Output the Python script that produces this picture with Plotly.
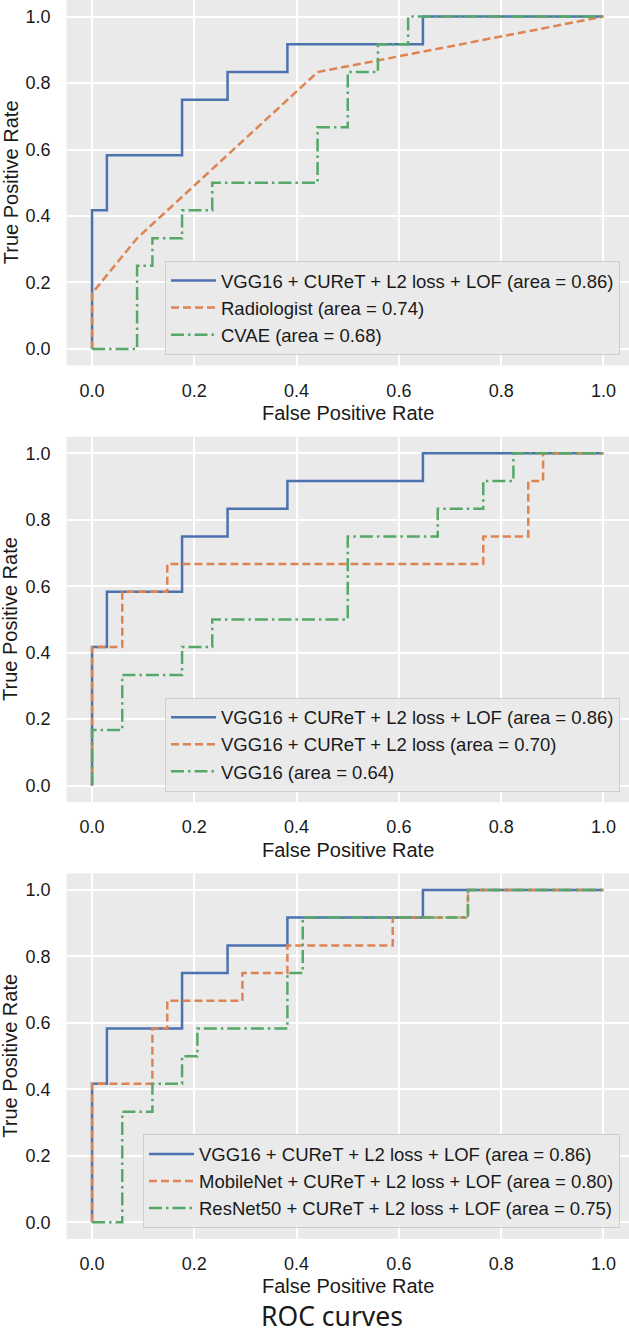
import plotly.graph_objects as go

# ROC corner points (step curves drawn with shape "hv")
vgg_lof_fpr = [0.0, 0.0, 0.029, 0.176, 0.265, 0.382, 0.647, 1.0]
vgg_lof_tpr = [0.0, 0.417, 0.583, 0.75, 0.833, 0.917, 1.0, 1.0]

radiologist_fpr = [0.0, 0.0, 0.088, 0.441, 1.0]
radiologist_tpr = [0.0, 0.167, 0.333, 0.833, 1.0]

cvae_fpr = [0.0, 0.088, 0.118, 0.176, 0.235, 0.441, 0.5, 0.559, 0.618, 1.0]
cvae_tpr = [0.0, 0.25, 0.333, 0.417, 0.5, 0.667, 0.833, 0.917, 1.0, 1.0]

vgg_l2_fpr = [0.0, 0.0, 0.059, 0.147, 0.765, 0.853, 0.882, 1.0]
vgg_l2_tpr = [0.0, 0.417, 0.583, 0.667, 0.75, 0.917, 1.0, 1.0]

vgg16_fpr = [0.0, 0.0, 0.059, 0.176, 0.235, 0.5, 0.676, 0.765, 0.824, 1.0]
vgg16_tpr = [0.0, 0.167, 0.333, 0.417, 0.5, 0.75, 0.833, 0.917, 1.0, 1.0]

mobilenet_fpr = [0.0, 0.0, 0.118, 0.147, 0.294, 0.382, 0.588, 0.735, 1.0]
mobilenet_tpr = [0.0, 0.417, 0.583, 0.667, 0.75, 0.833, 0.917, 1.0, 1.0]

resnet_fpr = [0.0, 0.059, 0.118, 0.176, 0.206, 0.382, 0.412, 0.735, 1.0]
resnet_tpr = [0.0, 0.333, 0.417, 0.5, 0.583, 0.75, 0.917, 1.0, 1.0]

tick_vals = [0.0, 0.2, 0.4, 0.6, 0.8, 1.0]

BLUE, ORANGE, GREEN = "#4C72B0", "#DD8452", "#55A868"
W, H = 629, 1335
FONT = "Liberation Sans, Arial, sans-serif"
INK = "#1a1a1a"

# (label, fpr, tpr, color, dash, shape) for each panel
panels = [
    [
        ("VGG16 + CUReT + L2 loss + LOF (area = 0.86)", vgg_lof_fpr, vgg_lof_tpr, BLUE, "solid", "hv"),
        ("Radiologist (area = 0.74)", radiologist_fpr, radiologist_tpr, ORANGE, "8px,4px", "linear"),
        ("CVAE (area = 0.68)", cvae_fpr, cvae_tpr, GREEN, "13px,4px,2.5px,4px", "hv"),
    ],
    [
        ("VGG16 + CUReT + L2 loss + LOF (area = 0.86)", vgg_lof_fpr, vgg_lof_tpr, BLUE, "solid", "hv"),
        ("VGG16 + CUReT + L2 loss (area = 0.70)", vgg_l2_fpr, vgg_l2_tpr, ORANGE, "8px,4px", "hv"),
        ("VGG16 (area = 0.64)", vgg16_fpr, vgg16_tpr, GREEN, "13px,4px,2.5px,4px", "hv"),
    ],
    [
        ("VGG16 + CUReT + L2 loss + LOF (area = 0.86)", vgg_lof_fpr, vgg_lof_tpr, BLUE, "solid", "hv"),
        ("MobileNet + CUReT + L2 loss + LOF (area = 0.80)", mobilenet_fpr, mobilenet_tpr, ORANGE, "8px,4px", "hv"),
        ("ResNet50 + CUReT + L2 loss + LOF (area = 0.75)", resnet_fpr, resnet_tpr, GREEN, "13px,4px,2.5px,4px", "hv"),
    ],
]

# panel boxes in pixels from the top of the page
tops = [0.0, 436.7, 873.4]
plot_h = 365.5
left = 66.5

fig = go.Figure()
layout = dict(
    width=W,
    height=H,
    margin=dict(l=0, r=0, t=0, b=0),
    paper_bgcolor="white",
    plot_bgcolor="#EAEAEA",
    font=dict(family=FONT, size=18, color=INK),
    showlegend=True,
    annotations=[],
)

for i, traces in enumerate(panels):
    n = "" if i == 0 else str(i + 1)
    leg = "legend" + n
    for name, fx, ty, color, dash, shape in traces:
        fig.add_trace(
            go.Scatter(
                x=fx,
                y=ty,
                name=name,
                mode="lines",
                line=dict(color=color, width=2.5, dash=dash, shape=shape),
                xaxis="x" + n,
                yaxis="y" + n,
                legend=leg,
            )
        )

    top = tops[i]
    bottom = top + plot_h
    ax = dict(
        range=[-0.05, 1.05],
        tickvals=tick_vals,
        tickformat=".1f",
        showgrid=True,
        gridcolor="white",
        gridwidth=1.5,
        zeroline=False,
        showline=False,
        ticks="",
        automargin=False,
        tickfont=dict(family=FONT, size=18, color=INK),
    )
    layout["xaxis" + n] = dict(ax, domain=[left / W, 1.0], anchor="y" + n, ticklabelstandoff=12)
    layout["yaxis" + n] = dict(
        ax, domain=[1 - bottom / H, 1 - top / H], anchor="x" + n, ticklabelstandoff=15
    )
    layout[leg] = dict(
        x=620 / W,
        xanchor="right",
        y=1 - (bottom - 10.5) / H,
        yanchor="bottom",
        bgcolor="rgba(234,234,234,0.9)",
        bordercolor="#CFCFCF",
        borderwidth=1,
        itemwidth=45,
        font=dict(family=FONT, size=18.5, color=INK),
        tracegroupgap=0,
    )
    layout["annotations"].append(
        dict(
            text="False Positive Rate",
            xref="paper",
            yref="paper",
            x=(left + W) / 2 / W,
            y=1 - (top + 413) / H,
            xanchor="center",
            yanchor="middle",
            showarrow=False,
            font=dict(family=FONT, size=20, color=INK),
        )
    )
    layout["annotations"].append(
        dict(
            text="True Positive Rate",
            xref="paper",
            yref="paper",
            x=10.5 / W,
            y=1 - (top + plot_h / 2) / H,
            xanchor="center",
            yanchor="middle",
            textangle=-90,
            showarrow=False,
            font=dict(family=FONT, size=20, color=INK),
        )
    )

layout["title"] = dict(
    text="ROC curves",
    x=332 / W,
    xanchor="center",
    xref="paper",
    y=1 - 1317 / H,
    yref="container",
    yanchor="middle",
    font=dict(family="Noto Sans, DejaVu Sans, sans-serif", size=26.5, color=INK),
)

fig.update_layout(**layout)
fig.write_html(
    "out.html",
    config=dict(displayModeBar=False),
    post_script="document.body.style.margin='0px';document.body.style.overflow='hidden';",
)
